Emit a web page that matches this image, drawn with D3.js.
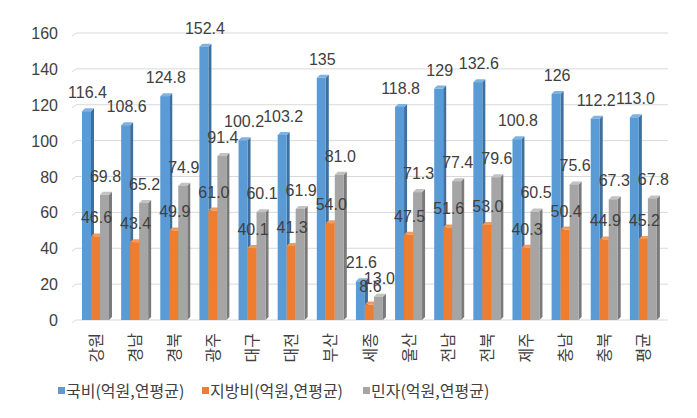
<!DOCTYPE html>
<html><head><meta charset="utf-8">
<script src="https://cdn.jsdelivr.net/npm/d3@7"></script>
<style>
html,body{margin:0;padding:0;background:#fff;}
svg{display:block;}
</style>
</head><body>
<svg id="chart" width="697" height="418"></svg>
<script>
const categories = ["강원","경남","경북","광주","대구","대전","부산","세종","울산","전남","전북","제주","충남","충북","평균"];
const seriesNames = ["국비(억원,연평균)","지방비(억원,연평균)","민자(억원,연평균)"];
const gukbi = [116.4,108.6,124.8,152.4,100.2,103.2,135,21.6,118.8,129,132.6,100.8,126,112.2,113.0];
const gukbiLabels = ["116.4","108.6","124.8","152.4","100.2","103.2","135","21.6","118.8","129","132.6","100.8","126","112.2","113.0"];
const jibangbi = [46.6,43.4,49.9,61.0,40.1,41.3,54.0,8.6,47.5,51.6,53.0,40.3,50.4,44.9,45.2];
const minja = [69.8,65.2,74.9,91.4,60.1,61.9,81.0,13.0,71.3,77.4,79.6,60.5,75.6,67.3,67.8];
const yTicks = [0,20,40,60,80,100,120,140,160];

(function(){
const svg = d3.select("#chart");
const fontNum = "'Liberation Sans', Arial, sans-serif";
const fontKr = "'Noto Sans CJK KR', 'Noto Sans', sans-serif";
const pLeft = 76, pRight = 663, pTop = 33, pBottom = 320;
const x = d3.scaleBand().domain(categories).range([pLeft, pRight]).padding(0);
const y = d3.scaleLinear().domain([0,160]).range([pBottom, pTop]);
const barW = 9, depth = 3, off = 6;

const colors = [
  {front:"#5B9BD5", side:"#3E6F9E", top:"#7FB2E0"},
  {front:"#ED7D31", side:"#B25C22", top:"#F29A5E"},
  {front:"#A5A5A5", side:"#7A7A7A", top:"#C2C2C2"}
];
const series = [gukbi, jibangbi, minja];
const labelsText = [gukbiLabels, jibangbi.map(v=>v.toFixed(1)), minja.map(v=>v.toFixed(1))];

const grid = svg.append("g");
yTicks.forEach(t => {
  const yy = y(t);
  grid.append("path")
    .attr("d", `M${pLeft-4},${yy+3}L${pLeft},${yy}L${pRight+5},${yy}`)
    .attr("fill","none").attr("stroke","#D9D9D9").attr("stroke-width",1);
});

const yAxis = d3.axisLeft(y).tickValues(yTicks).tickSize(0).tickPadding(0);
const ya = svg.append("g").attr("transform",`translate(58,0)`).call(yAxis);
ya.select(".domain").remove();
ya.selectAll("text").attr("font-family",fontNum).attr("font-size",16).attr("fill","#404040").attr("dy","0.35em");

series.forEach((vals, si) => {
  const c = colors[si];
  const g = svg.append("g");
  vals.forEach((v, i) => {
    const x0 = x(categories[i]) + off + si*barW;
    const y0 = y(v), yb = y(0);
    g.append("path").attr("d",`M${x0+barW},${y0}L${x0+barW+depth},${y0-depth}L${x0+barW+depth},${yb-depth}L${x0+barW},${yb}Z`).attr("fill",c.side);
    g.append("path").attr("d",`M${x0},${y0}L${x0+depth},${y0-depth}L${x0+barW+depth},${y0-depth}L${x0+barW},${y0}Z`).attr("fill",c.top);
    g.append("rect").attr("x",x0).attr("y",y0).attr("width",barW).attr("height",yb-y0).attr("fill",c.front);
  });
});

series.forEach((vals, si) => {
  const g = svg.append("g");
  vals.forEach((v, i) => {
    const cx = x(categories[i]) + off + si*barW + barW/2 + 1;
    g.append("text").attr("x",cx).attr("y",y(v)-13)
      .attr("text-anchor","middle").attr("font-family",fontNum).attr("font-size",16)
      .attr("fill","#404040").text(labelsText[si][i]);
  });
});

const xg = svg.append("g");
categories.forEach(c => {
  const cx = x(c) + x.bandwidth()/2;
  xg.append("text").attr("transform",`translate(${cx+6},333) rotate(-90)`)
    .attr("text-anchor","end").attr("font-family",fontKr).attr("font-size",16)
    .attr("fill","#404040").text(c);
});

const legendX = [58, 202, 363];
const lg = svg.append("g");
seriesNames.forEach((n, i) => {
  lg.append("rect").attr("x",legendX[i]).attr("y",387).attr("width",7).attr("height",7).attr("fill",colors[i].front);
  lg.append("text").attr("x",legendX[i]+8).attr("y",397).attr("font-family",fontKr).attr("font-size",16)
    .attr("fill","#404040").text(n);
});
})();
</script>
</body></html>
